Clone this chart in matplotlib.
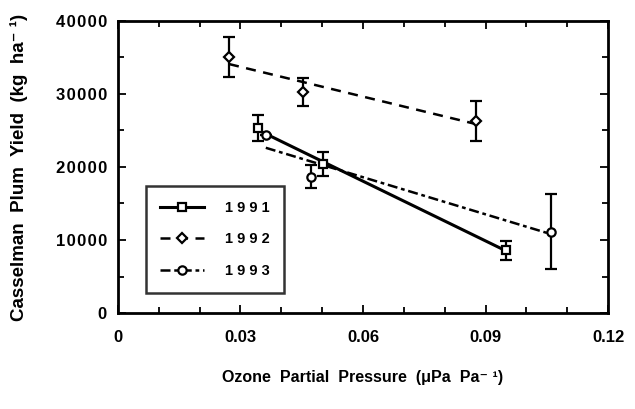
import numpy as np
import matplotlib
matplotlib.use("Agg")
import matplotlib.pyplot as plt
from matplotlib.ticker import MultipleLocator

plt.rcParams['font.family'] = ['Liberation Sans', 'DejaVu Sans']
plt.rcParams['font.weight'] = 'bold'

# data
x1991 = [0.0343, 0.0502, 0.0950]
y1991 = [25300, 20400, 8600]
e1991 = [1800, 1700, 1300]

x1992 = [0.0272, 0.0452, 0.0876]
y1992 = [35070, 30270, 26300]
e1992 = [2700, 1900, 2700]

x1993 = [0.0362, 0.0473, 0.1060]
y1993 = [24380, 18670, 11140]
e1993 = [0, 1600, 5100]

xticks = [0, 0.03, 0.06, 0.09, 0.12]
xticklabels = ["0", "0.03", "0.06", "0.09", "0.12"]
yticks = [0, 10000, 20000, 30000, 40000]
yticklabels = ["0", "10000", "20000", "30000", "40000"]

series = [
    ("1 9 9 1", x1991, y1991, e1991, "s", "-", 2.2),
    ("1 9 9 2", x1992, y1992, e1992, "D", (0, (4, 3)), 1.8),
    ("1 9 9 3", x1993, y1993, e1993, "o", (0, (4, 1.5, 1.5, 1.5)), 1.8),
]

fig = plt.figure(figsize=(6.35, 4.09), dpi=100)
ax = fig.add_axes([0.1858, 0.2347, 0.7717, 0.714])

handles = []
for label, xs, ys, es, mk, ls, lw in series:
    xs = np.array(xs)
    ys = np.array(ys)
    # regression line through the points
    k, b = np.polyfit(xs, ys, 1)
    xf = np.array([xs.min(), xs.max()])
    ax.plot(xf, k * xf + b, color="black", ls=ls, lw=lw, zorder=2)
    ax.errorbar(xs, ys, yerr=es, fmt="none", ecolor="black", elinewidth=1.6,
                capsize=4, capthick=1.6, zorder=3)
    ms = 6 if mk != "D" else 5
    ax.plot(xs, ys, ls="none", marker=mk, ms=ms, mfc="white", mec="black",
            mew=1.6, zorder=4)
    h, = ax.plot([], [], color="black", ls=ls, lw=lw, marker=mk, ms=ms,
                 mfc="white", mec="black", mew=1.6)
    handles.append((h, label))

ax.set_xlim(0, 0.12)
ax.set_ylim(0, 40000)
ax.set_xticks(xticks)
ax.set_xticklabels(xticklabels)
ax.set_yticks(yticks)
ax.set_yticklabels(["\u200a".join(s) for s in yticklabels])
ax.xaxis.set_minor_locator(MultipleLocator(0.01))
ax.yaxis.set_minor_locator(MultipleLocator(5000))
ax.tick_params(which="both", direction="in", top=True, right=True,
               width=1.3, labelsize=12)
ax.tick_params(axis="x", pad=12)
ax.tick_params(axis="y", pad=8)
ax.tick_params(which="major", length=6)
ax.tick_params(which="minor", length=4)
for s in ax.spines.values():
    s.set_linewidth(2)

ax.set_xlabel("Ozone  Partial  Pressure  (\u03bcPa  Pa\u207b \u00b9)",
              fontsize=11.5, fontweight="bold", labelpad=18)
ax.set_ylabel("Casselman  Plum  Yield  (kg  ha\u207b \u00b9)",
              fontsize=13.5, fontweight="bold", labelpad=20)

leg = ax.legend([h for h, _ in handles], [l for _, l in handles],
                loc="lower left", bbox_to_anchor=(0.057, 0.07),
                frameon=True, fancybox=False, edgecolor="black",
                handlelength=3.0, labelspacing=1.2, borderpad=1.0,
                handletextpad=1.4, fontsize=10.5, borderaxespad=0)
leg.get_frame().set_linewidth(1.8)
for t in leg.get_texts():
    t.set_fontweight("bold")

fig.savefig("out.png", dpi=100)
